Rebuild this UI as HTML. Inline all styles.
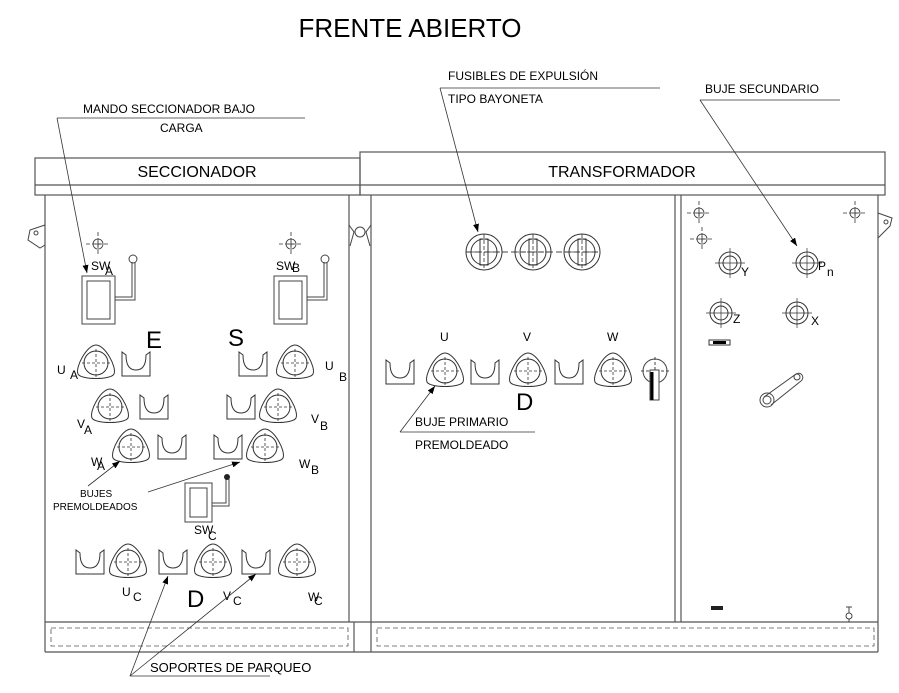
<!DOCTYPE html>
<html><head><meta charset="utf-8"><style>
html,body{margin:0;padding:0;background:#fff;}
svg{display:block;font-family:"Liberation Sans",sans-serif;}
</style></head><body>
<svg width="899" height="693" viewBox="0 0 899 693" xmlns="http://www.w3.org/2000/svg">
<defs>
<marker id="ar" markerWidth="8" markerHeight="6" refX="8" refY="3" orient="auto" markerUnits="userSpaceOnUse"><path d="M0,0 L8,3 L0,6 Z" fill="#000"/></marker>
<g id="bu" fill="none" stroke="#333" stroke-width="1">
<path d="M0,-18 C9,-18 21,4 18,11 C15,17 -15,17 -18,11 C-21,4 -9,-18 0,-18 Z"/>
<circle r="12"/>
<path d="M-14,0 H14 M0,-14 V14" stroke-dasharray="3,2" stroke-width="0.8"/>
</g>
<g id="uu" fill="none" stroke="#333" stroke-width="1">
<path d="M-14,-12 V12 H14 V-12 L10,-9 Q10,6 0,6 Q-10,6 -10,-9 Z"/>
</g>
<g id="ch" fill="none" stroke="#333" stroke-width="0.8">
<circle r="5"/><path d="M-12,0 H12 M0,-12 V12" stroke-dasharray="4,2"/><path d="M-3,0H3M0,-3V3"/>
</g>
<g id="tg" fill="none" stroke="#333" stroke-width="1">
<circle r="11"/><circle r="7"/><path d="M-15,0 H15 M0,-15 V15" stroke-width="0.7"/>
</g>
<g id="fu" fill="none" stroke="#333" stroke-width="1">
<circle r="18"/><circle r="13"/><rect x="-4" y="-13" width="8" height="26"/><path d="M-18,0 H18 M0,-18 V18" stroke-dasharray="4,2" stroke-width="0.8"/>
</g>
</defs>

<text x="410" y="37" font-size="26" text-anchor="middle">FRENTE ABIERTO</text>

<!-- header boxes -->
<g fill="none" stroke="#555" stroke-width="1.2">
<rect x="35" y="158" width="325" height="37"/><line x1="35" y1="185" x2="360" y2="185"/>
<rect x="360" y="152" width="525" height="43"/><line x1="360" y1="185" x2="885" y2="185"/>
<!-- body -->
<line x1="45" y1="195" x2="45" y2="652"/>
<line x1="349" y1="195" x2="349" y2="622"/>
<line x1="371" y1="195" x2="371" y2="652"/>
<line x1="354" y1="622" x2="354" y2="652"/>
<line x1="675" y1="195" x2="675" y2="622"/>
<line x1="681" y1="195" x2="681" y2="622"/>
<line x1="878" y1="195" x2="878" y2="652"/>
<line x1="45" y1="622" x2="878" y2="622"/>
<line x1="45" y1="652" x2="878" y2="652"/>
</g>
<g fill="none" stroke="#555" stroke-width="0.8" stroke-dasharray="5,3">
<rect x="51" y="628" width="297" height="18"/>
<rect x="377" y="628" width="497" height="18"/>
</g>
<text x="197" y="177" font-size="16" text-anchor="middle">SECCIONADOR</text>
<text x="622" y="177" font-size="16" text-anchor="middle">TRANSFORMADOR</text>

<!-- hinges -->
<g fill="none" stroke="#444" stroke-width="1">
<path d="M45,225 L30,230 L28,240 L40,248 L45,245"/><circle cx="36" cy="233" r="2"/>
<path d="M349,225 L354,232 L350,246 M371,225 L366,232 L370,246"/><circle cx="360" cy="232" r="5"/>
<path d="M878,213 L892,218 L890,226 L878,238"/><circle cx="886" cy="222" r="2"/>
</g>

<!-- left panel -->
<use href="#ch" x="98" y="244"/><use href="#ch" x="291" y="244"/>
<g fill="none" stroke="#444" stroke-width="1">
<rect x="82" y="276" width="33" height="48"/><rect x="87" y="281" width="23" height="38"/>
<path d="M115,300 H135 V262 M115,297 H132 V262"/><circle cx="133" cy="259" r="4"/>
<rect x="274" y="276" width="33" height="48"/><rect x="279" y="281" width="23" height="38"/>
<path d="M307,300 H327 V262 M307,297 H324 V262"/><circle cx="325" cy="259" r="4"/>
<rect x="185" y="483" width="27" height="39"/><rect x="190" y="488" width="17" height="29"/>
<path d="M212,506 H229 V479 M212,503 H226 V479"/>
</g>
<circle cx="227" cy="477" r="3" fill="#222"/>
<text x="91" y="270" font-size="12">SW</text><text x="105" y="275" font-size="12">A</text>
<text x="276" y="270" font-size="12">SW</text><text x="292" y="272" font-size="12">B</text>
<text x="194" y="534" font-size="12">SW</text><text x="208" y="540" font-size="12">C</text>
<text x="146" y="348" font-size="24">E</text>
<text x="228" y="346" font-size="24">S</text>
<text x="187" y="607" font-size="24">D</text>

<use href="#bu" x="96" y="363"/><use href="#uu" x="136" y="364"/>
<use href="#uu" x="253" y="364"/><use href="#bu" x="295" y="363"/>
<use href="#bu" x="110" y="407"/><use href="#uu" x="154" y="407"/>
<use href="#uu" x="241" y="407"/><use href="#bu" x="278" y="407"/>
<use href="#bu" x="131" y="447"/><use href="#uu" x="172" y="447"/>
<use href="#uu" x="228" y="447"/><use href="#bu" x="265" y="447"/>
<use href="#uu" x="90" y="562"/><use href="#bu" x="128" y="562"/>
<use href="#uu" x="173" y="562"/><use href="#bu" x="213" y="562"/>
<use href="#uu" x="256" y="562"/><use href="#bu" x="297" y="562"/>

<g font-size="12">
<text x="57" y="374">U</text><text x="70" y="379">A</text>
<text x="325" y="370">U</text><text x="339" y="381">B</text>
<text x="77" y="428">V</text><text x="84" y="434">A</text>
<text x="311" y="423">V</text><text x="320" y="430">B</text>
<text x="91" y="466">W</text><text x="97" y="470">A</text>
<text x="299" y="468">W</text><text x="311" y="474">B</text>
<text x="122" y="596">U</text><text x="133" y="601">C</text>
<text x="223" y="600">V</text><text x="233" y="605">C</text>
<text x="308" y="601">W</text><text x="314" y="605">C</text>
</g>
<text x="80" y="497" font-size="10">BUJES</text>
<text x="53" y="510" font-size="10">PREMOLDEADOS</text>

<!-- middle panel -->
<path d="M466,252 H600" stroke="#444" stroke-dasharray="6,3" fill="none"/>
<use href="#fu" x="484" y="252"/><use href="#fu" x="533" y="252"/><use href="#fu" x="582" y="252"/>
<use href="#uu" x="400" y="372"/><use href="#bu" x="445" y="371"/>
<use href="#uu" x="485" y="372"/><use href="#bu" x="528" y="371"/>
<use href="#uu" x="569" y="372"/><use href="#bu" x="613" y="371"/>
<g fill="none" stroke="#444"><circle cx="655" cy="371" r="12"/><path d="M641,371H669M655,357V385" stroke-dasharray="3,2"/><rect x="650" y="370" width="9" height="30" fill="#fff"/></g>
<line x1="652" y1="372" x2="652" y2="400" stroke="#000" stroke-width="3"/>
<g font-size="12"><text x="440" y="341">U</text><text x="523" y="341">V</text><text x="607" y="341">W</text></g>
<text x="516" y="410" font-size="24">D</text>

<!-- right panel -->
<use href="#ch" x="699" y="213"/><use href="#ch" x="702" y="239"/><use href="#ch" x="855" y="213"/>
<use href="#tg" x="730" y="263"/><use href="#tg" x="807" y="263"/>
<use href="#tg" x="721" y="313"/><use href="#tg" x="797" y="313"/>
<g font-size="12"><text x="741" y="276">Y</text><text x="818" y="270">P</text><text x="827" y="276">n</text><text x="733" y="323">Z</text><text x="811" y="325">X</text></g>
<rect x="709" y="340" width="21" height="5" fill="none" stroke="#333"/><rect x="713" y="341" width="13" height="3" fill="#000"/>
<g fill="none" stroke="#444"><path d="M764,397 L796,374 A4,4 0 0 1 801,381 L771,405"/><circle cx="767" cy="400" r="7"/><circle cx="767" cy="400" r="4"/><circle cx="797" cy="377" r="3"/></g>
<rect x="711" y="606" width="12" height="4" fill="#222"/>
<g fill="none" stroke="#444"><circle cx="849" cy="616" r="3"/><path d="M846,607H852M849,607V613M849,619V622"/></g>

<!-- callouts -->
<g stroke="#333" stroke-width="0.8" fill="none">
<line x1="57" y1="118" x2="305" y2="118"/><line x1="57" y1="118" x2="87" y2="273" marker-end="url(#ar)"/>
<line x1="440" y1="88" x2="660" y2="88"/><line x1="440" y1="88" x2="478" y2="232" marker-end="url(#ar)"/>
<line x1="700" y1="100" x2="840" y2="100"/><line x1="700" y1="100" x2="797" y2="246" marker-end="url(#ar)"/>
<line x1="400" y1="432" x2="535" y2="432"/><line x1="400" y1="432" x2="435" y2="386" marker-end="url(#ar)"/>
<line x1="88" y1="486" x2="120" y2="461" marker-end="url(#ar)"/>
<line x1="148" y1="492" x2="240" y2="462" marker-end="url(#ar)"/>
<line x1="130" y1="676" x2="270" y2="676"/>
<line x1="130" y1="676" x2="168" y2="576" marker-end="url(#ar)"/>
<line x1="130" y1="676" x2="256" y2="574" marker-end="url(#ar)"/>
</g>
<g font-size="12">
<text x="83" y="113">MANDO SECCIONADOR BAJO</text>
<text x="160" y="132">CARGA</text>
<text x="448" y="80">FUSIBLES DE EXPULSIÓN</text>
<text x="448" y="103">TIPO BAYONETA</text>
<text x="705" y="93">BUJE SECUNDARIO</text>
<text x="415" y="426">BUJE PRIMARIO</text>
<text x="415" y="449">PREMOLDEADO</text>
<text x="150" y="672" font-size="13">SOPORTES DE PARQUEO</text>
</g>
</svg>
</body></html>
